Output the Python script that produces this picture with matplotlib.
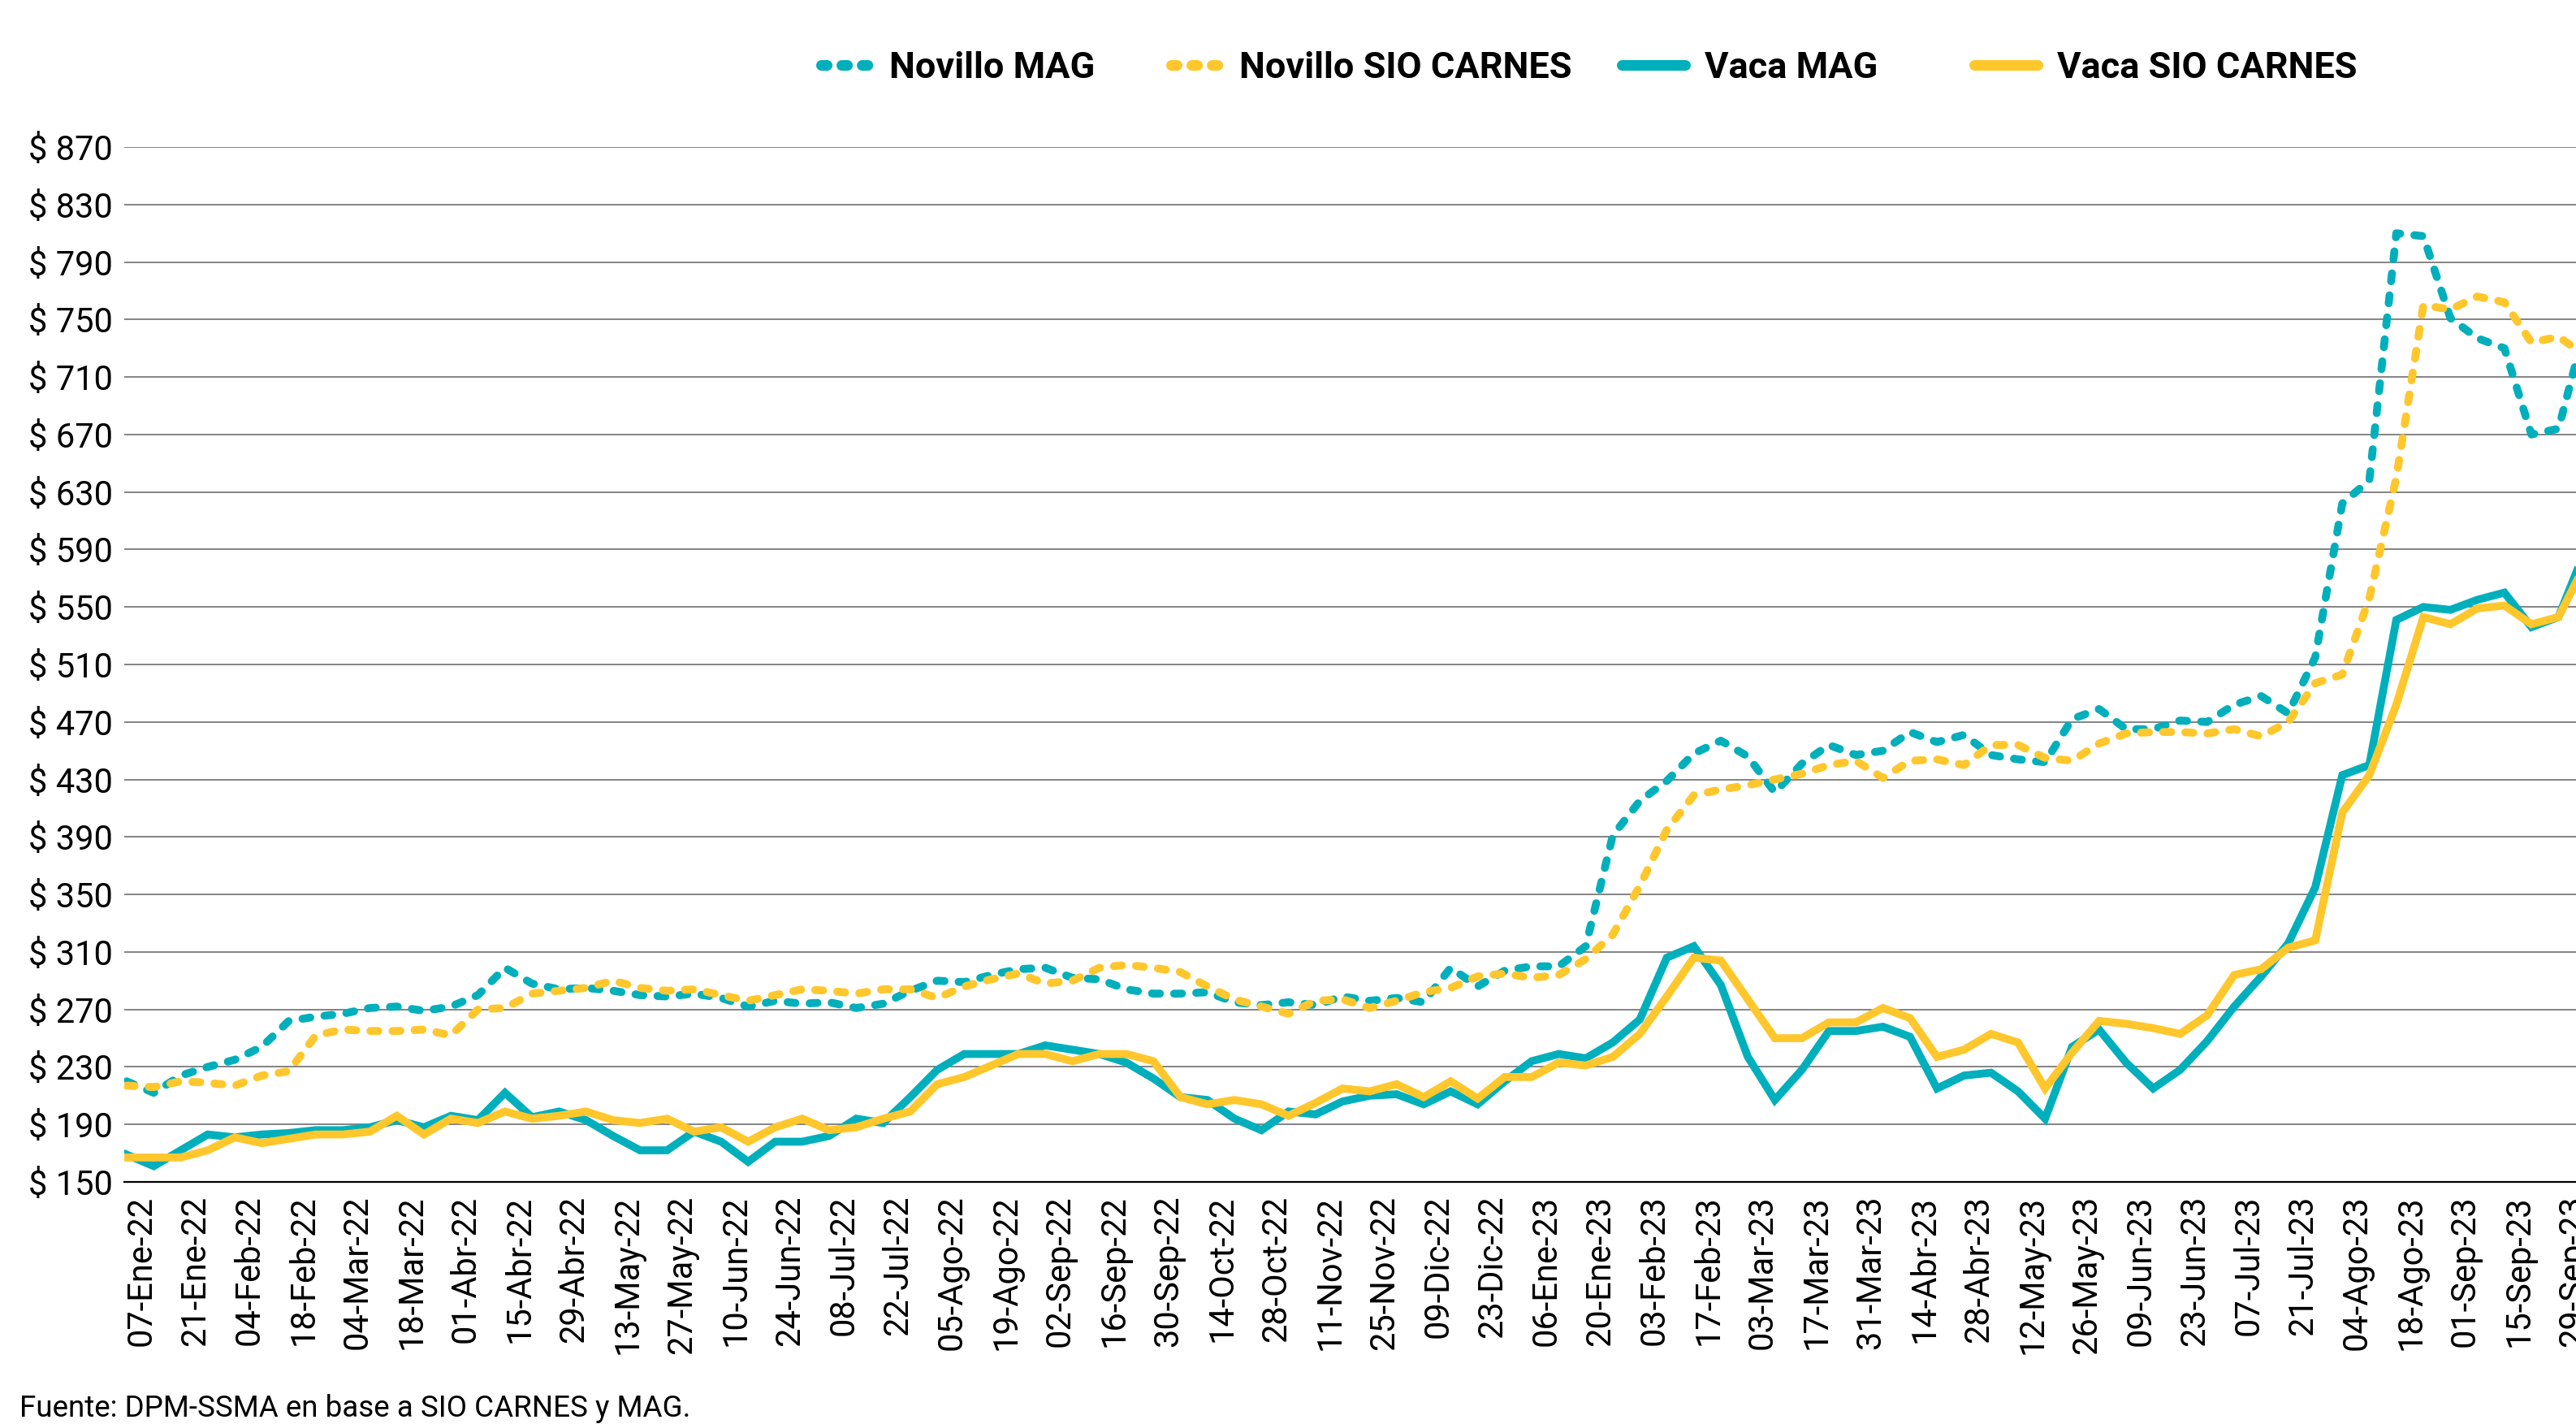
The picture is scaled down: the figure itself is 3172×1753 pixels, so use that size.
import numpy as np
import matplotlib
matplotlib.use("Agg")
import matplotlib.pyplot as plt
from matplotlib.lines import Line2D

plt.rcParams['font.family'] = ['Roboto', 'DejaVu Sans']

# ---- data (weekly, from 07-Ene-22; last point 06-Oct-23 lies beyond the crop) ----
novillo_mag = [220, 212, 224, 230, 235, 244, 262, 265, 267, 271, 272, 269, 272, 280, 299, 288,
               284, 285, 283, 280, 279, 281, 278, 272, 276, 274, 275, 271, 274, 283, 290, 289,
               294, 298, 299, 292, 291, 284, 281, 281, 282, 275, 273, 275, 273, 279, 276, 278,
               275, 299, 286, 297, 300, 300, 314, 391, 415, 429, 448, 457, 446, 421, 441, 454,
               447, 450, 463, 456, 461, 447, 444, 442, 472, 479, 465, 465, 471, 470, 482, 488,
               476, 515, 622, 638, 810, 808, 751, 737, 730, 670, 674, 745]
novillo_sio = [217, 216, 220, 219, 217, 224, 227, 252, 256, 255, 255, 256, 252, 270, 271, 281,
               283, 285, 290, 285, 283, 284, 280, 276, 280, 284, 283, 281, 284, 284, 278, 286,
               291, 295, 288, 290, 299, 301, 299, 296, 286, 277, 272, 267, 276, 277, 271, 276,
               282, 285, 293, 295, 292, 294, 305, 322, 356, 395, 419, 423, 426, 430, 434, 440,
               443, 431, 443, 444, 440, 454, 454, 445, 443, 455, 462, 463, 463, 462, 465, 460,
               470, 497, 503, 556, 640, 760, 757, 766, 762, 734, 738, 725]
vaca_mag = [169, 161, 172, 183, 181, 183, 184, 186, 186, 188, 193, 188, 196, 193, 212, 195,
            199, 193, 182, 172, 172, 185, 178, 164, 178, 178, 182, 194, 191, 209, 228, 239,
            239, 239, 245, 242, 239, 233, 222, 209, 207, 194, 186, 199, 197, 206, 210, 211,
            204, 213, 204, 220, 234, 239, 236, 247, 263, 306, 314, 287, 237, 207, 228, 255,
            255, 258, 251, 215, 224, 226, 213, 194, 244, 256, 233, 215, 228, 248, 272, 293,
            316, 355, 433, 440, 541, 550, 548, 555, 560, 536, 543, 590]
vaca_sio = [167, 167, 167, 172, 181, 177, 180, 183, 183, 185, 196, 183, 194, 191, 199, 194,
            196, 199, 193, 191, 194, 185, 188, 178, 188, 194, 186, 188, 194, 199, 218, 223,
            231, 239, 239, 234, 239, 239, 234, 209, 204, 207, 204, 196, 205, 215, 213, 218,
            209, 220, 208, 223, 223, 233, 231, 237, 253, 279, 306, 304, 277, 250, 250, 261,
            261, 271, 264, 237, 242, 253, 247, 215, 240, 262, 260, 257, 253, 266, 294, 298,
            313, 318, 407, 433, 482, 543, 538, 549, 551, 538, 543, 580]

tick_labels = ["07-Ene-22", "21-Ene-22", "04-Feb-22", "18-Feb-22", "04-Mar-22", "18-Mar-22",
               "01-Abr-22", "15-Abr-22", "29-Abr-22", "13-May-22", "27-May-22", "10-Jun-22",
               "24-Jun-22", "08-Jul-22", "22-Jul-22", "05-Ago-22", "19-Ago-22", "02-Sep-22",
               "16-Sep-22", "30-Sep-22", "14-Oct-22", "28-Oct-22", "11-Nov-22", "25-Nov-22",
               "09-Dic-22", "23-Dic-22", "06-Ene-23", "20-Ene-23", "03-Feb-23", "17-Feb-23",
               "03-Mar-23", "17-Mar-23", "31-Mar-23", "14-Abr-23", "28-Abr-23", "12-May-23",
               "26-May-23", "09-Jun-23", "23-Jun-23", "07-Jul-23", "21-Jul-23", "04-Ago-23",
               "18-Ago-23", "01-Sep-23", "15-Sep-23", "29-Sep-23"]
y_ticks = list(range(150, 871, 40))

series_names = ["Novillo MAG", "Novillo SIO CARNES", "Vaca MAG", "Vaca SIO CARNES"]
TEAL = "#00AFBC"
YELLOW = "#FFC72C"

W, H = 3172, 1753
fig = plt.figure(figsize=(W / 100, H / 100), dpi=100)
ax = fig.add_axes([153 / W, (H - 1455) / H, (W - 153) / W, (1455 - 181) / H])

x = np.arange(len(vaca_mag))
lw = 7.0
dash = (0, (1.0, 1.8))
ax.plot(x, novillo_mag, color=TEAL, lw=lw, linestyle=dash, dash_capstyle='round', zorder=3)
ax.plot(x, novillo_sio, color=YELLOW, lw=lw, linestyle=dash, dash_capstyle='round', zorder=3)
ax.plot(x, vaca_mag, color=TEAL, lw=lw, solid_joinstyle='miter', zorder=4)
ax.plot(x, vaca_sio, color=YELLOW, lw=lw, solid_joinstyle='miter', zorder=4)

ax.set_xlim(-0.09, 90.65)
ax.set_ylim(150, 870)
ax.set_yticks(y_ticks)
ax.set_yticklabels([f"$ {v}" for v in y_ticks], fontsize=30)
ax.set_xticks(np.arange(0, 2 * len(tick_labels), 2) + 0.55)
ax.set_xticklabels(tick_labels, rotation=90, fontsize=30)
ax.tick_params(axis='y', length=0, pad=10)
ax.tick_params(axis='x', length=0, pad=12)
ax.yaxis.grid(True, color='#7a7a7a', lw=1.3)
ax.xaxis.grid(False)
ax.set_axisbelow(True)
for s in ['top', 'right', 'left']:
    ax.spines[s].set_visible(False)
ax.spines['bottom'].set_color('black')
ax.spines['bottom'].set_linewidth(1.6)
ax.spines['bottom'].set_zorder(2)

# legend: one entry per legend to match the spacing of the original
leg_lw = 9.4
leg_handles = [
    Line2D([], [], color=TEAL, lw=leg_lw, linestyle=(0, (0.54, 1.38)), dash_capstyle='round'),
    Line2D([], [], color=YELLOW, lw=leg_lw, linestyle=(0, (0.54, 1.38)), dash_capstyle='round'),
    Line2D([], [], color=TEAL, lw=leg_lw, solid_capstyle='round'),
    Line2D([], [], color=YELLOW, lw=leg_lw, solid_capstyle='round'),
]
legend_pos = [(1011, 1.33), (1442, 1.33), (1997, 1.73), (2431, 1.73)]
for h, name, (px, hl) in zip(leg_handles, series_names, legend_pos):
    fig.legend(handles=[h], labels=[name], loc='center left', bbox_to_anchor=(px / W, 1 - 84 / H),
               frameon=False, borderpad=0, borderaxespad=0, handlelength=hl,
               handletextpad=0.53, prop={'size': 32.5, 'weight': 'bold'})

fig.text(24 / W, (H - 1744) / H, "Fuente: DPM-SSMA en base a SIO CARNES y MAG.",
         fontsize=26.5, ha='left', va='baseline')

fig.savefig("out.png", dpi=100)
